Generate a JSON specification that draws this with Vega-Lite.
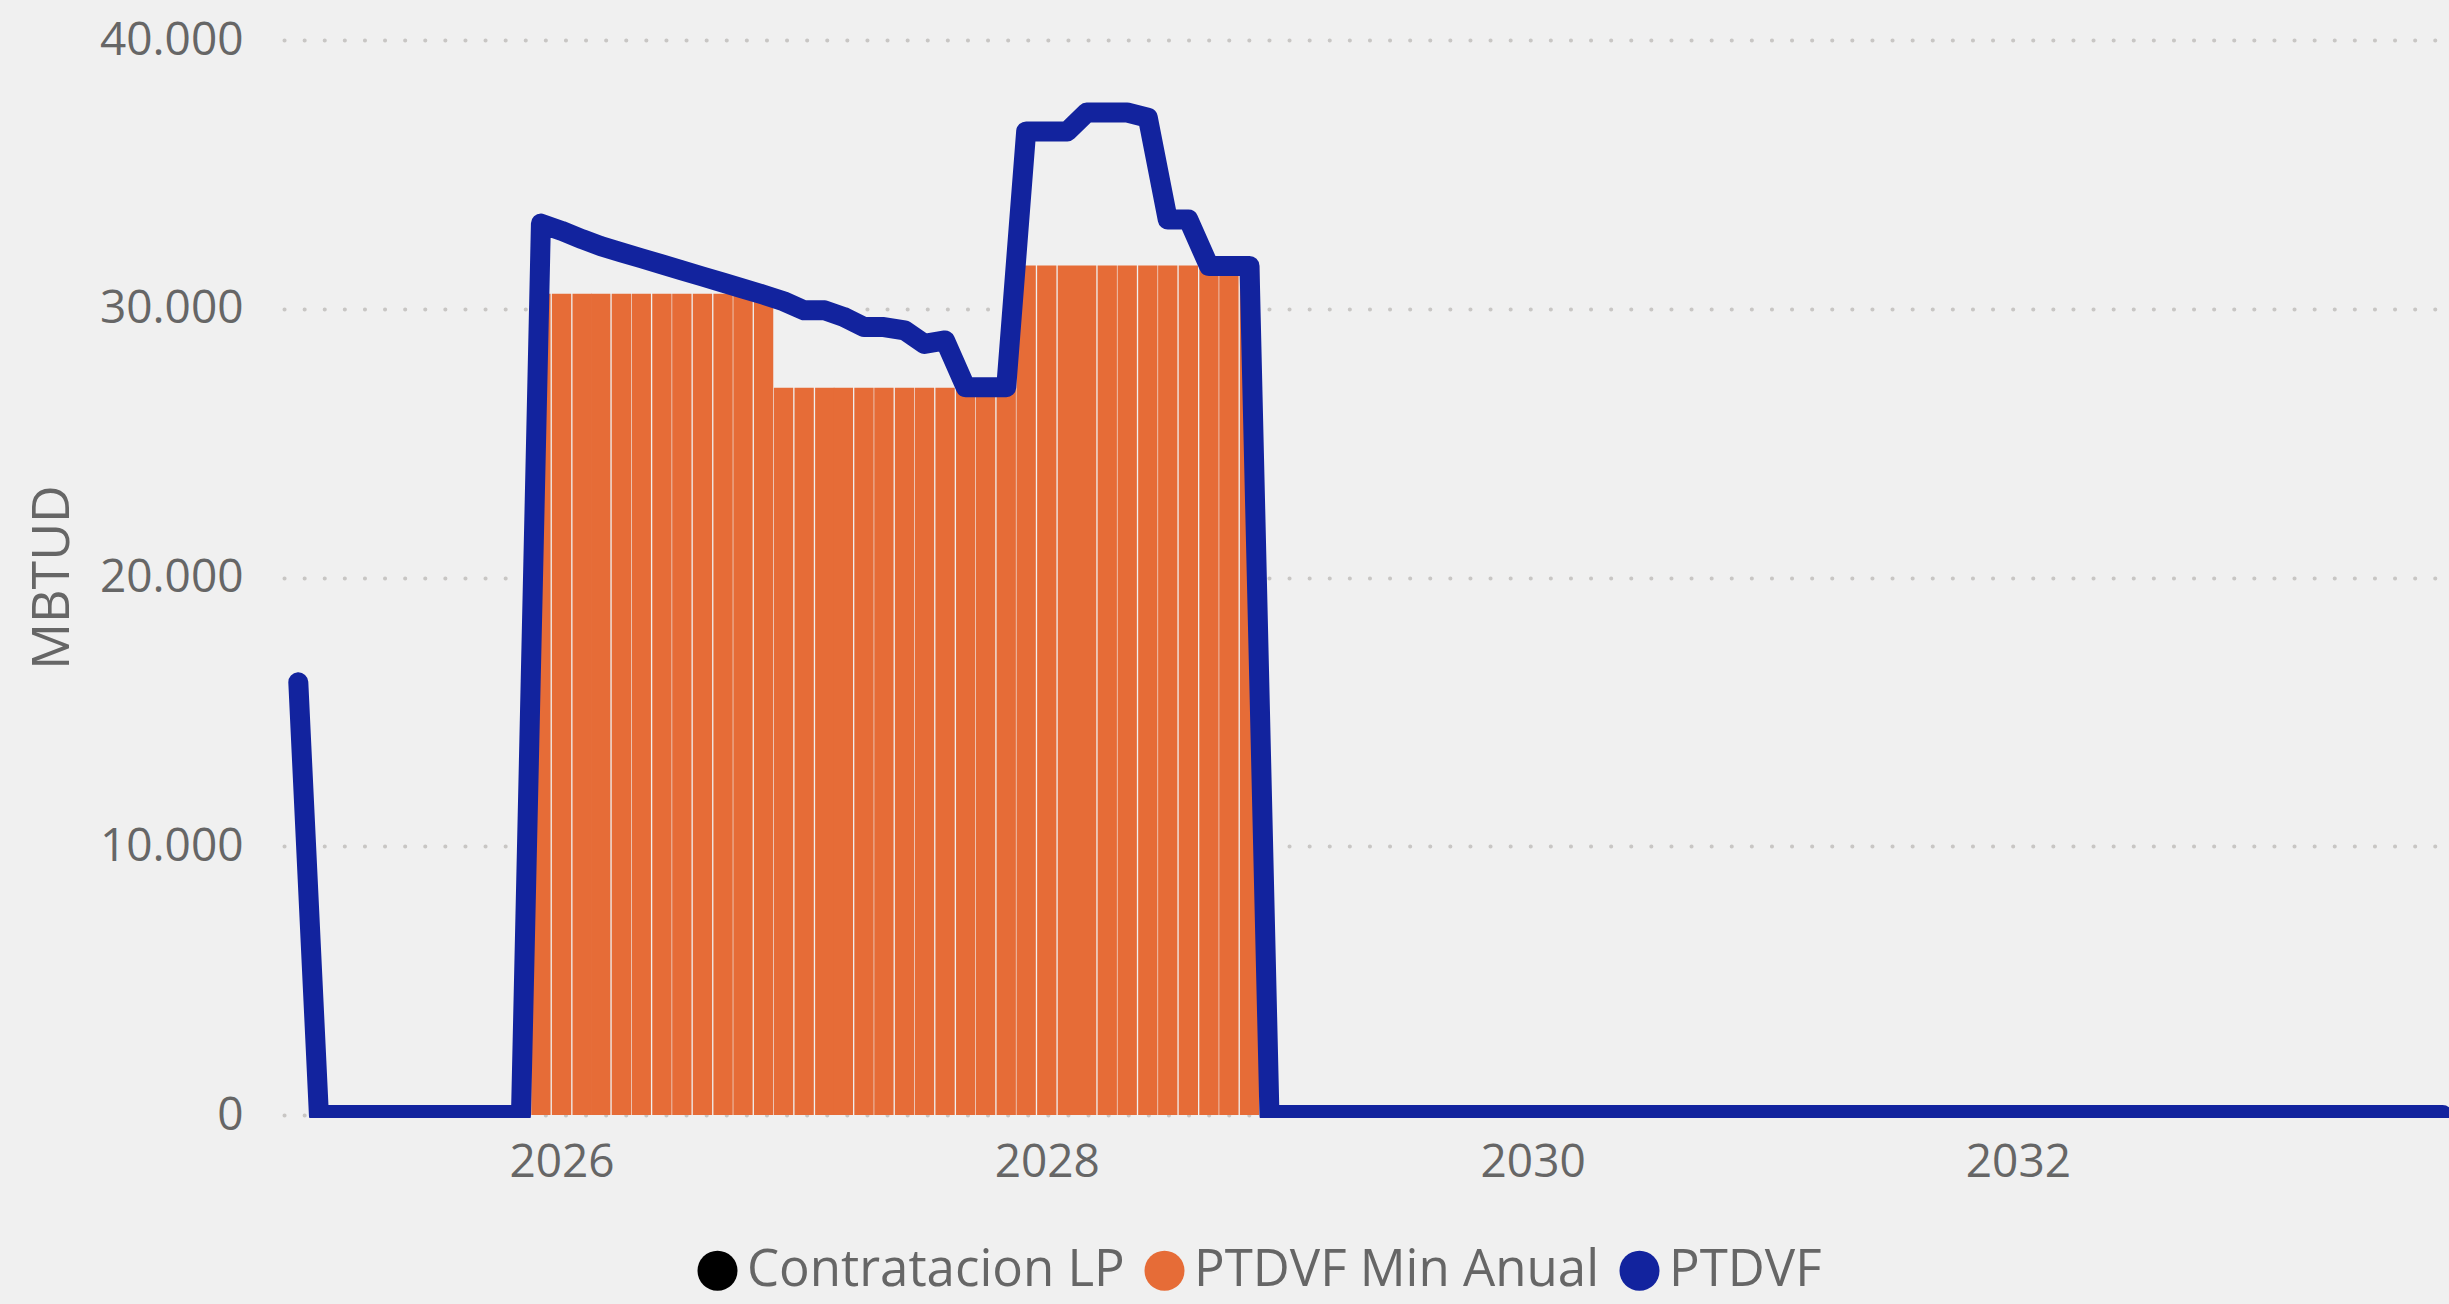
{
  "$schema": "https://vega.github.io/schema/vega-lite/v6.json",
  "autosize": {"type": "none"},
  "padding": {"left": 284, "top": 40, "right": 0, "bottom": 186},
  "width": 2165,
  "height": 1078,
  "background": "#F0F0F0",
  "config": {"view": {"stroke": null}, "font": "Open Sans"},
  "data": {"values": [
    {"fecha":"2024-12-01","serie":"PTDVF","valor":16100},
    {"fecha":"2025-01-01","serie":"PTDVF","valor":0},
    {"fecha":"2025-02-01","serie":"PTDVF","valor":0},
    {"fecha":"2025-03-01","serie":"PTDVF","valor":0},
    {"fecha":"2025-04-01","serie":"PTDVF","valor":0},
    {"fecha":"2025-05-01","serie":"PTDVF","valor":0},
    {"fecha":"2025-06-01","serie":"PTDVF","valor":0},
    {"fecha":"2025-07-01","serie":"PTDVF","valor":0},
    {"fecha":"2025-08-01","serie":"PTDVF","valor":0},
    {"fecha":"2025-09-01","serie":"PTDVF","valor":0},
    {"fecha":"2025-10-01","serie":"PTDVF","valor":0},
    {"fecha":"2025-11-01","serie":"PTDVF","valor":0},
    {"fecha":"2025-12-01","serie":"PTDVF","valor":33170},
    {"fecha":"2026-01-01","serie":"PTDVF","valor":32900},
    {"fecha":"2026-02-01","serie":"PTDVF","valor":32590},
    {"fecha":"2026-03-01","serie":"PTDVF","valor":32330},
    {"fecha":"2026-04-01","serie":"PTDVF","valor":32100},
    {"fecha":"2026-05-01","serie":"PTDVF","valor":31880},
    {"fecha":"2026-06-01","serie":"PTDVF","valor":31650},
    {"fecha":"2026-07-01","serie":"PTDVF","valor":31430},
    {"fecha":"2026-08-01","serie":"PTDVF","valor":31200},
    {"fecha":"2026-09-01","serie":"PTDVF","valor":30970},
    {"fecha":"2026-10-01","serie":"PTDVF","valor":30750},
    {"fecha":"2026-11-01","serie":"PTDVF","valor":30520},
    {"fecha":"2026-12-01","serie":"PTDVF","valor":30280},
    {"fecha":"2027-01-01","serie":"PTDVF","valor":29940},
    {"fecha":"2027-02-01","serie":"PTDVF","valor":29940},
    {"fecha":"2027-03-01","serie":"PTDVF","valor":29700},
    {"fecha":"2027-04-01","serie":"PTDVF","valor":29320},
    {"fecha":"2027-05-01","serie":"PTDVF","valor":29320},
    {"fecha":"2027-06-01","serie":"PTDVF","valor":29200},
    {"fecha":"2027-07-01","serie":"PTDVF","valor":28690},
    {"fecha":"2027-08-01","serie":"PTDVF","valor":28820},
    {"fecha":"2027-09-01","serie":"PTDVF","valor":27080},
    {"fecha":"2027-10-01","serie":"PTDVF","valor":27080},
    {"fecha":"2027-11-01","serie":"PTDVF","valor":27080},
    {"fecha":"2027-12-01","serie":"PTDVF","valor":36600},
    {"fecha":"2028-01-01","serie":"PTDVF","valor":36600},
    {"fecha":"2028-02-01","serie":"PTDVF","valor":36600},
    {"fecha":"2028-03-01","serie":"PTDVF","valor":37300},
    {"fecha":"2028-04-01","serie":"PTDVF","valor":37300},
    {"fecha":"2028-05-01","serie":"PTDVF","valor":37300},
    {"fecha":"2028-06-01","serie":"PTDVF","valor":37110},
    {"fecha":"2028-07-01","serie":"PTDVF","valor":33320},
    {"fecha":"2028-08-01","serie":"PTDVF","valor":33320},
    {"fecha":"2028-09-01","serie":"PTDVF","valor":31590},
    {"fecha":"2028-10-01","serie":"PTDVF","valor":31590},
    {"fecha":"2028-11-01","serie":"PTDVF","valor":31590},
    {"fecha":"2028-12-01","serie":"PTDVF","valor":0},
    {"fecha":"2029-01-01","serie":"PTDVF","valor":0},
    {"fecha":"2029-02-01","serie":"PTDVF","valor":0},
    {"fecha":"2029-03-01","serie":"PTDVF","valor":0},
    {"fecha":"2029-04-01","serie":"PTDVF","valor":0},
    {"fecha":"2029-05-01","serie":"PTDVF","valor":0},
    {"fecha":"2029-06-01","serie":"PTDVF","valor":0},
    {"fecha":"2029-07-01","serie":"PTDVF","valor":0},
    {"fecha":"2029-08-01","serie":"PTDVF","valor":0},
    {"fecha":"2029-09-01","serie":"PTDVF","valor":0},
    {"fecha":"2029-10-01","serie":"PTDVF","valor":0},
    {"fecha":"2029-11-01","serie":"PTDVF","valor":0},
    {"fecha":"2029-12-01","serie":"PTDVF","valor":0},
    {"fecha":"2030-01-01","serie":"PTDVF","valor":0},
    {"fecha":"2030-02-01","serie":"PTDVF","valor":0},
    {"fecha":"2030-03-01","serie":"PTDVF","valor":0},
    {"fecha":"2030-04-01","serie":"PTDVF","valor":0},
    {"fecha":"2030-05-01","serie":"PTDVF","valor":0},
    {"fecha":"2030-06-01","serie":"PTDVF","valor":0},
    {"fecha":"2030-07-01","serie":"PTDVF","valor":0},
    {"fecha":"2030-08-01","serie":"PTDVF","valor":0},
    {"fecha":"2030-09-01","serie":"PTDVF","valor":0},
    {"fecha":"2030-10-01","serie":"PTDVF","valor":0},
    {"fecha":"2030-11-01","serie":"PTDVF","valor":0},
    {"fecha":"2030-12-01","serie":"PTDVF","valor":0},
    {"fecha":"2031-01-01","serie":"PTDVF","valor":0},
    {"fecha":"2031-02-01","serie":"PTDVF","valor":0},
    {"fecha":"2031-03-01","serie":"PTDVF","valor":0},
    {"fecha":"2031-04-01","serie":"PTDVF","valor":0},
    {"fecha":"2031-05-01","serie":"PTDVF","valor":0},
    {"fecha":"2031-06-01","serie":"PTDVF","valor":0},
    {"fecha":"2031-07-01","serie":"PTDVF","valor":0},
    {"fecha":"2031-08-01","serie":"PTDVF","valor":0},
    {"fecha":"2031-09-01","serie":"PTDVF","valor":0},
    {"fecha":"2031-10-01","serie":"PTDVF","valor":0},
    {"fecha":"2031-11-01","serie":"PTDVF","valor":0},
    {"fecha":"2031-12-01","serie":"PTDVF","valor":0},
    {"fecha":"2032-01-01","serie":"PTDVF","valor":0},
    {"fecha":"2032-02-01","serie":"PTDVF","valor":0},
    {"fecha":"2032-03-01","serie":"PTDVF","valor":0},
    {"fecha":"2032-04-01","serie":"PTDVF","valor":0},
    {"fecha":"2032-05-01","serie":"PTDVF","valor":0},
    {"fecha":"2032-06-01","serie":"PTDVF","valor":0},
    {"fecha":"2032-07-01","serie":"PTDVF","valor":0},
    {"fecha":"2032-08-01","serie":"PTDVF","valor":0},
    {"fecha":"2032-09-01","serie":"PTDVF","valor":0},
    {"fecha":"2032-10-01","serie":"PTDVF","valor":0},
    {"fecha":"2032-11-01","serie":"PTDVF","valor":0},
    {"fecha":"2032-12-01","serie":"PTDVF","valor":0},
    {"fecha":"2033-01-01","serie":"PTDVF","valor":0},
    {"fecha":"2033-02-01","serie":"PTDVF","valor":0},
    {"fecha":"2033-03-01","serie":"PTDVF","valor":0},
    {"fecha":"2033-04-01","serie":"PTDVF","valor":0},
    {"fecha":"2033-05-01","serie":"PTDVF","valor":0},
    {"fecha":"2033-06-01","serie":"PTDVF","valor":0},
    {"fecha":"2033-07-01","serie":"PTDVF","valor":0},
    {"fecha":"2033-08-01","serie":"PTDVF","valor":0},
    {"fecha":"2033-09-01","serie":"PTDVF","valor":0},
    {"fecha":"2033-10-01","serie":"PTDVF","valor":0},
    {"fecha":"2025-12-01","serie":"PTDVF Min Anual","valor":30560},
    {"fecha":"2026-01-01","serie":"PTDVF Min Anual","valor":30560},
    {"fecha":"2026-02-01","serie":"PTDVF Min Anual","valor":30560},
    {"fecha":"2026-03-01","serie":"PTDVF Min Anual","valor":30560},
    {"fecha":"2026-04-01","serie":"PTDVF Min Anual","valor":30560},
    {"fecha":"2026-05-01","serie":"PTDVF Min Anual","valor":30560},
    {"fecha":"2026-06-01","serie":"PTDVF Min Anual","valor":30560},
    {"fecha":"2026-07-01","serie":"PTDVF Min Anual","valor":30560},
    {"fecha":"2026-08-01","serie":"PTDVF Min Anual","valor":30560},
    {"fecha":"2026-09-01","serie":"PTDVF Min Anual","valor":30560},
    {"fecha":"2026-10-01","serie":"PTDVF Min Anual","valor":30560},
    {"fecha":"2026-11-01","serie":"PTDVF Min Anual","valor":30560},
    {"fecha":"2026-12-01","serie":"PTDVF Min Anual","valor":27060},
    {"fecha":"2027-01-01","serie":"PTDVF Min Anual","valor":27060},
    {"fecha":"2027-02-01","serie":"PTDVF Min Anual","valor":27060},
    {"fecha":"2027-03-01","serie":"PTDVF Min Anual","valor":27060},
    {"fecha":"2027-04-01","serie":"PTDVF Min Anual","valor":27060},
    {"fecha":"2027-05-01","serie":"PTDVF Min Anual","valor":27060},
    {"fecha":"2027-06-01","serie":"PTDVF Min Anual","valor":27060},
    {"fecha":"2027-07-01","serie":"PTDVF Min Anual","valor":27060},
    {"fecha":"2027-08-01","serie":"PTDVF Min Anual","valor":27060},
    {"fecha":"2027-09-01","serie":"PTDVF Min Anual","valor":27060},
    {"fecha":"2027-10-01","serie":"PTDVF Min Anual","valor":27060},
    {"fecha":"2027-11-01","serie":"PTDVF Min Anual","valor":27060},
    {"fecha":"2027-12-01","serie":"PTDVF Min Anual","valor":31610},
    {"fecha":"2028-01-01","serie":"PTDVF Min Anual","valor":31610},
    {"fecha":"2028-02-01","serie":"PTDVF Min Anual","valor":31610},
    {"fecha":"2028-03-01","serie":"PTDVF Min Anual","valor":31610},
    {"fecha":"2028-04-01","serie":"PTDVF Min Anual","valor":31610},
    {"fecha":"2028-05-01","serie":"PTDVF Min Anual","valor":31610},
    {"fecha":"2028-06-01","serie":"PTDVF Min Anual","valor":31610},
    {"fecha":"2028-07-01","serie":"PTDVF Min Anual","valor":31610},
    {"fecha":"2028-08-01","serie":"PTDVF Min Anual","valor":31610},
    {"fecha":"2028-09-01","serie":"PTDVF Min Anual","valor":31610},
    {"fecha":"2028-10-01","serie":"PTDVF Min Anual","valor":31610},
    {"fecha":"2028-11-01","serie":"PTDVF Min Anual","valor":31610}
  ]},
  "encoding": {
    "x": {
      "field": "fecha",
      "type": "temporal",
      "scale": {"type": "utc", "domain": [{"year": 2024, "month": 11, "date": 17, "utc": true}, {"year": 2033, "month": 10, "date": 3, "utc": true}]},
      "axis": {
        "title": null,
        "values": [{"year": 2026, "utc": true}, {"year": 2028, "utc": true}, {"year": 2030, "utc": true}, {"year": 2032, "utc": true}],
        "labelExpr": "utcFormat(datum.value, '%Y')",
        "grid": false,
        "ticks": false,
        "domain": false,
        "labelFont": "Open Sans",
        "labelFontSize": 46,
        "labelColor": "#666666",
        "labelPadding": 22
      }
    },
    "y": {
      "field": "valor",
      "type": "quantitative",
      "scale": {"domain": [-110, 40000], "nice": false, "zero": false},
      "axis": {
        "title": "MBTUD",
        "values": [0, 10000, 20000, 30000, 40000],
        "labelExpr": "replace(format(datum.value, ','), ',', '.')",
        "grid": true,
        "gridDash": [0.1, 20],
        "gridCap": "round",
        "gridWidth": 4,
        "gridColor": "#C8C6C4",
        "ticks": false,
        "domain": false,
        "labelFont": "Open Sans",
        "labelFontSize": 46,
        "labelColor": "#666666",
        "labelPadding": 41,
        "titleFont": "Open Sans",
        "titleFontSize": 52,
        "titleFontWeight": "normal",
        "titleColor": "#666666",
        "titleAngle": -90,
        "titleAlign": "center",
        "titleBaseline": "middle",
        "titleX": -232,
        "titleY": 537
      }
    }
  },
  "layer": [
    {
      "transform": [{"filter": "datum.serie === 'PTDVF Min Anual'"}],
      "mark": {"type": "bar", "width": 19.3},
      "encoding": {
        "y2": {"datum": 0},
        "color": {
          "field": "serie",
          "type": "nominal",
          "scale": {"domain": ["Contratacion LP", "PTDVF Min Anual", "PTDVF"], "range": ["#000000", "#E66C37", "#12239E"]},
          "legend": {
            "title": null,
            "orient": "none",
            "legendX": 408,
            "legendY": 1205,
            "direction": "horizontal",
            "symbolType": "circle",
            "symbolSize": 1600,
            "symbolStrokeWidth": 0,
            "symbolOpacity": 1,
            "labelFont": "Open Sans",
            "labelFontSize": 51,
            "labelColor": "#666666",
            "labelOffset": 4,
            "labelLimit": 600,
            "columnPadding": 14,
            "padding": 0
          }
        }
      }
    },
    {
      "transform": [{"filter": "datum.serie === 'PTDVF'"}],
      "mark": {"type": "line", "strokeWidth": 20, "strokeJoin": "round", "strokeCap": "round", "clip": true},
      "encoding": {
        "color": {"field": "serie", "type": "nominal", "legend": null}
      }
    }
  ]
}
